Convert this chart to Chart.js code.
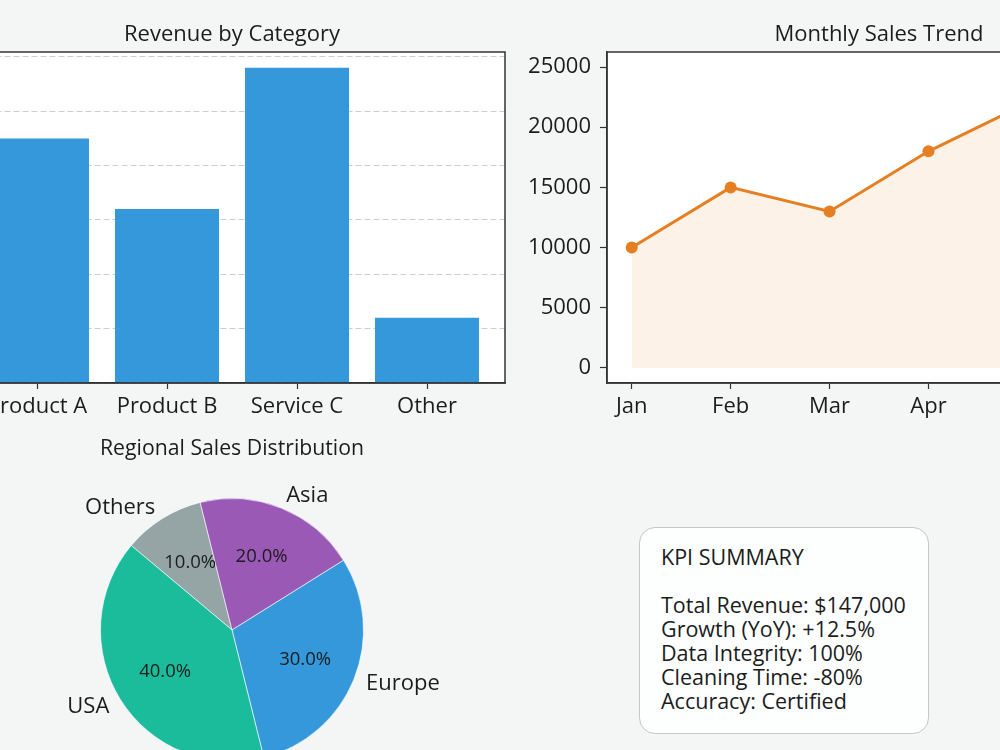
<!DOCTYPE html>
<html>
<head>
<meta charset="utf-8">
<script src="https://cdn.jsdelivr.net/npm/chart.js@4"></script>
<style>
  html, body { margin: 0; padding: 0; }
  body { width: 1000px; height: 750px; overflow: hidden; position: relative; background: #f4f6f6; font-family: 'Open Sans', sans-serif; }
  canvas { position: absolute; }
  #kpi { position: absolute; left: 639px; top: 527px; width: 288px; height: 205px; border: 1.5px solid #c4c8c8; border-radius: 16px; background: #fdfefe; box-sizing: content-box; }
  #kpi pre { margin: 0; padding: 17px 0 0 21px; font-family: inherit; font-size: 21.5px; line-height: 24px; color: #1c1c1c; }
</style>
</head>
<body>
<canvas id="barChart" width="660" height="430" style="left:-150px; top:0px;"></canvas>
<canvas id="lineChart" width="700" height="430" style="left:500px; top:0px;"></canvas>
<canvas id="pieChart" width="464" height="420" style="left:0px; top:420px;"></canvas>
<div id="kpi"><pre id="kpiText"></pre></div>
<script>
// revenue by category
var categories = ['Product A', 'Product B', 'Service C', 'Other'];
var revenue = [45000, 32000, 58000, 12000];
var revenueTicks = [0, 10000, 20000, 30000, 40000, 50000, 60000];

// monthly sales
var months = ['Jan', 'Feb', 'Mar', 'Apr', 'May', 'Jun'];
var sales = [10000, 15000, 13000, 18000, 22000, 25000];
var salesTicks = [0, 5000, 10000, 15000, 20000, 25000];

// regional split
var regions = ['USA', 'Europe', 'Asia', 'Others'];
var shares = [40, 30, 20, 10];
var regionColors = ['#1abc9c', '#3498db', '#9b59b6', '#95a5a6'];

var kpiLines = [
    'KPI SUMMARY',
    '',
    'Total Revenue: $147,000',
    'Growth (YoY): +12.5%',
    'Data Integrity: 100%',
    'Cleaning Time: -80%',
    'Accuracy: Certified'
];

Chart.defaults.font.family = "'Open Sans', sans-serif";
Chart.defaults.font.size = 22;
Chart.defaults.color = '#1c1c1c';
Chart.defaults.animation = false;
Chart.defaults.plugins.legend.display = false;
Chart.defaults.plugins.tooltip.enabled = false;

var titleOpts = function (text, top, bottom) {
    return {
        display: true,
        text: text,
        fullSize: false,
        color: '#1c1c1c',
        font: { size: 22, weight: 'normal' },
        padding: { top: top, bottom: bottom }
    };
};

var plainNumber = function (v) { return String(v); };

// white axes background + dark spines round the plot area
var framePlugin = {
    id: 'frame',
    beforeDraw: function (chart) {
        var a = chart.chartArea, ctx = chart.ctx;
        ctx.save();
        ctx.fillStyle = '#ffffff';
        ctx.fillRect(a.left, a.top, a.right - a.left, a.bottom - a.top);
        ctx.restore();
    },
    afterDraw: function (chart) {
        var a = chart.chartArea, ctx = chart.ctx;
        ctx.save();
        ctx.strokeStyle = '#333333';
        ctx.lineWidth = 1.5;
        ctx.strokeRect(a.left, a.top, a.right - a.left, a.bottom - a.top);
        ctx.restore();
    }
};

// bar chart
var barPoints = revenue.map(function (v, i) { return { x: i, y: v }; });
new Chart(document.getElementById('barChart'), {
    type: 'bar',
    data: {
        datasets: [{
            data: barPoints,
            backgroundColor: '#3498db',
            barPercentage: 0.8,
            categoryPercentage: 1.0
        }]
    },
    options: {
        responsive: false,
        layout: { padding: { left: 0, right: 5, top: 0, bottom: 0 } },
        plugins: { title: titleOpts('Revenue by Category', 22, 3.6) },
        scales: {
            x: {
                type: 'linear',
                offset: false,
                min: -0.6,
                max: 3.6,
                afterBuildTicks: function (s) { s.ticks = categories.map(function (c, i) { return { value: i }; }); },
                afterFit: function (s) { s.height = 47; },
                ticks: { padding: 5, callback: function (v) { return categories[v]; } },
                grid: { offset: false, drawOnChartArea: false, tickLength: 6, tickColor: '#333333', tickWidth: 1.2 },
                border: { color: '#333333', width: 1.5 }
            },
            y: {
                min: 0,
                max: 60900,
                z: 1,
                afterBuildTicks: function (s) { s.ticks = revenueTicks.map(function (v) { return { value: v }; }); },
                afterFit: function (s) { s.width = 109; },
                ticks: { padding: 9, callback: plainNumber },
                grid: { color: 'rgba(180,180,180,0.65)', lineWidth: 1, tickLength: 7, tickColor: '#333333' },
                border: { color: '#333333', width: 1.5, dash: [6, 3] }
            }
        }
    },
    plugins: [framePlugin]
});

// line chart
var linePoints = sales.map(function (v, i) { return { x: i, y: v }; });
new Chart(document.getElementById('lineChart'), {
    type: 'line',
    data: {
        datasets: [{
            data: linePoints,
            borderColor: '#e67e22',
            borderWidth: 3,
            pointRadius: 6,
            pointBackgroundColor: '#e67e22',
            pointBorderWidth: 0,
            fill: 'origin',
            backgroundColor: 'rgba(230,126,34,0.1)',
            tension: 0
        }]
    },
    options: {
        responsive: false,
        layout: { padding: { left: 0, right: 49, top: 0, bottom: 0 } },
        plugins: { title: titleOpts('Monthly Sales Trend', 22, 3.6) },
        scales: {
            x: {
                type: 'linear',
                min: -0.25,
                max: 5.25,
                afterBuildTicks: function (s) { s.ticks = months.map(function (m, i) { return { value: i }; }); },
                afterFit: function (s) { s.height = 47; },
                ticks: { padding: 5, callback: function (v) { return months[v]; } },
                grid: { drawOnChartArea: false, tickLength: 6, tickColor: '#333333', tickWidth: 1.2 },
                border: { color: '#333333', width: 1.5 }
            },
            y: {
                min: -1250,
                max: 26250,
                afterBuildTicks: function (s) { s.ticks = salesTicks.map(function (v) { return { value: v }; }); },
                afterFit: function (s) { s.width = 107; },
                ticks: { padding: 9, callback: plainNumber },
                grid: { drawOnChartArea: false, tickLength: 7, tickColor: '#333333', tickWidth: 1.2 },
                border: { color: '#333333', width: 1.5 }
            }
        }
    },
    plugins: [framePlugin]
});

// pie chart, drawn clockwise so the region order is reversed
var pieLabels = regions.slice().reverse();
var pieValues = shares.slice().reverse();
var pieColors = regionColors.slice().reverse();

var pieLabelPlugin = {
    id: 'pieLabels',
    afterDatasetsDraw: function (chart) {
        var ctx = chart.ctx;
        var total = pieValues.reduce(function (a, b) { return a + b; }, 0);
        chart.getDatasetMeta(0).data.forEach(function (arc, i) {
            var p = arc.getProps(['x', 'y', 'startAngle', 'endAngle', 'outerRadius'], true);
            var mid = (p.startAngle + p.endAngle) / 2;
            var cx = Math.cos(mid), cy = Math.sin(mid);
            ctx.save();
            ctx.fillStyle = '#1c1c1c';
            ctx.font = "22px 'Open Sans', sans-serif";
            ctx.textBaseline = 'middle';
            ctx.textAlign = cx >= 0 ? 'left' : 'right';
            ctx.fillText(pieLabels[i], p.x + cx * p.outerRadius * 1.1, p.y + cy * p.outerRadius * 1.1);
            ctx.font = "18.5px 'Open Sans', sans-serif";
            ctx.textAlign = 'center';
            var pct = (pieValues[i] / total * 100).toFixed(1) + '%';
            ctx.fillText(pct, p.x + cx * p.outerRadius * 0.6, p.y + cy * p.outerRadius * 0.6);
            ctx.restore();
        });
    }
};

new Chart(document.getElementById('pieChart'), {
    type: 'pie',
    data: {
        labels: pieLabels,
        datasets: [{
            data: pieValues,
            backgroundColor: pieColors,
            borderColor: 'rgba(255,255,255,0.6)',
            borderWidth: 1
        }]
    },
    options: {
        responsive: false,
        rotation: -50,
        layout: { padding: { left: 100, right: 100, top: 0, bottom: 78 } },
        plugins: { title: titleOpts('Regional Sales Distribution', 16, 35.6) }
    },
    plugins: [pieLabelPlugin]
});

document.getElementById('kpiText').textContent = kpiLines.join('\n');
</script>
</body>
</html>
